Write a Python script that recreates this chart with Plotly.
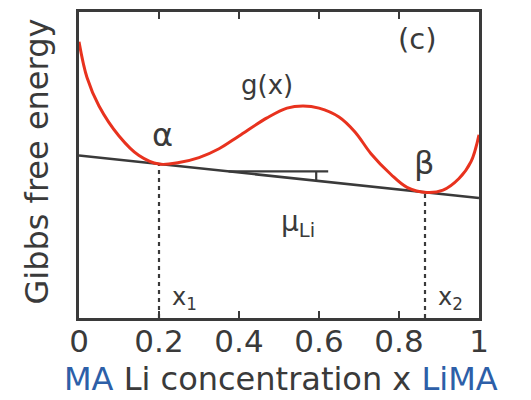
import plotly.graph_objects as go

# free-energy curve g(x) (normalised energy units)
curve_x = [0.00, 0.02, 0.05, 0.10, 0.15, 0.20, 0.25, 0.30, 0.35, 0.40, 0.47, 0.52,
           0.56, 0.60, 0.65, 0.69, 0.73, 0.78, 0.82, 0.87, 0.91, 0.95, 0.98, 1.00]
curve_g = [0.903, 0.786, 0.693, 0.595, 0.531, 0.503, 0.508, 0.524, 0.553, 0.595, 0.654, 0.686,
           0.693, 0.686, 0.657, 0.608, 0.537, 0.469, 0.427, 0.410, 0.418, 0.456, 0.511, 0.599]

# common tangent line
tangent_x = [0.0, 1.0]
tangent_g = [0.531, 0.392]

# slope marker (mu_Li)
slope_h_x = [0.374, 0.623]
slope_h_g = [0.479, 0.479]
slope_v_x = [0.593, 0.593]
slope_v_g = [0.479, 0.449]

# phase compositions
x1, g1 = 0.2, 0.503
x2, g2 = 0.865, 0.411

tick_vals = [0, 0.2, 0.4, 0.6, 0.8, 1]
tick_text = ["0", "0.2", "0.4", "0.6", "0.8", "1"]

DARK = "#3a3a3a"
RED = "#e8321e"
BLUE = "#2d5fa8"
FONT = "DejaVu Sans"

fig = go.Figure()
fig.add_trace(go.Scatter(x=[x1, x1], y=[0, g1], mode="lines",
                         line=dict(color=DARK, width=2.2, dash="4px,4px"), hoverinfo="skip"))
fig.add_trace(go.Scatter(x=[x2, x2], y=[0, g2], mode="lines",
                         line=dict(color=DARK, width=2.2, dash="4px,4px"), hoverinfo="skip"))
fig.add_trace(go.Scatter(x=tangent_x, y=tangent_g, mode="lines",
                         line=dict(color=DARK, width=2.5)))
fig.add_trace(go.Scatter(x=slope_h_x, y=slope_h_g, mode="lines",
                         line=dict(color=DARK, width=2.2)))
fig.add_trace(go.Scatter(x=slope_v_x, y=slope_v_g, mode="lines",
                         line=dict(color=DARK, width=2.2)))
fig.add_trace(go.Scatter(x=curve_x, y=curve_g, mode="lines",
                         line=dict(color=RED, width=3, shape="spline", smoothing=1.0)))


def py(pix):
    """vertical pixel position -> data/paper y (plot area spans 9..318 px)"""
    return (318 - pix) / 309


def px(pix):
    return (pix - 79) / 400


def label(text, xpix, ypix, size, angle=0, color=DARK, ref="x"):
    fig.add_annotation(text=text, x=px(xpix), y=py(ypix), xref=ref, yref=ref.replace("x", "y"),
                       showarrow=False, font=dict(family=FONT, size=size, color=color),
                       textangle=angle, xanchor="center", yanchor="middle")


label("(c)", 417, 36, 29)
label("g(x)", 267, 83, 26)
label("α", 162, 133, 32)
label("β", 424, 161, 32)
label("μ<sub>Li</sub>", 298, 223, 28)
label("x<sub>1</sub>", 184, 298, 24)
label("x<sub>2</sub>", 450, 298, 24)

fig.add_annotation(
    text=f"<span style='color:{BLUE}'>MA</span> Li concentration x <span style='color:{BLUE}'>LiMA</span>",
    x=px(281), y=py(400.5), xref="paper", yref="paper", showarrow=False,
    font=dict(family=FONT, size=32, color=DARK), xanchor="center", yanchor="bottom")
fig.add_annotation(text="Gibbs free energy", x=px(37), y=py(160), xref="paper", yref="paper",
                   showarrow=False, textangle=-90,
                   font=dict(family=FONT, size=32, color=DARK), xanchor="center", yanchor="middle")

fig.update_xaxes(range=[0, 1], tickvals=tick_vals, ticktext=tick_text, ticks="inside",
                 ticklen=7, tickwidth=2, tickcolor=DARK, showline=True, linewidth=2.5,
                 linecolor=DARK, mirror="ticks", showgrid=False, zeroline=False,
                 ticklabelstandoff=-6,
                 tickfont=dict(family=FONT, size=31, color=DARK))
fig.update_yaxes(range=[0, 1], showticklabels=False, ticks="", showline=True, linewidth=2.5,
                 linecolor=DARK, mirror=True, showgrid=False, zeroline=False)

fig.update_layout(width=531, height=400, margin=dict(l=79, r=52, t=9, b=82),
                  paper_bgcolor="white", plot_bgcolor="white", showlegend=False)

fig.write_html("out.html")
